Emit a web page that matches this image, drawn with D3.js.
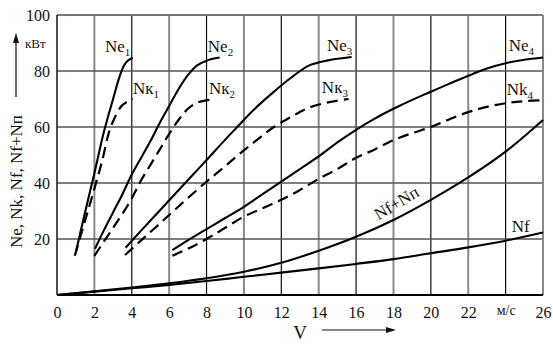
<!DOCTYPE html>
<html><head><meta charset="utf-8">
<script src="https://cdn.jsdelivr.net/npm/d3@7/dist/d3.min.js"></script>
<style>
body{margin:0;background:#fff}
text{font-family:"Liberation Serif","Times New Roman",serif;fill:#111}
</style>
</head><body>
<svg id="c" width="553" height="344"></svg>
<script>
// ---- data ----
const xTicks = [0,2,4,6,8,10,12,14,16,18,20,22,24,26];
const xTickLabels = ["0","2","4","6","8","10","12","14","16","18","20","22","м/с","26"];
const yTicks = [20,40,60,80,100];
const yTickLabels = ["20","40","60","80","100"];

const ne1 = [[1.0,15],[1.5,29.5],[2.0,43.5],[2.5,58],[3.0,70],[3.3,77],[3.55,81.5],[3.75,83.5],[4.05,84.8]];
const nk1 = [[0.95,14],[1.5,26.5],[2.0,38],[2.4,47.5],[2.8,58.5],[3.1,63.5],[3.45,67.5],[3.75,69],[4.05,70]];
const ne2 = [[2.03,16.5],[2.5,23],[3.0,29.5],[3.5,36],[4.0,43],[4.5,49],[5.0,55],[5.5,61.5],[6.0,67.5],[6.5,73.5],[7.0,78.5],[7.5,82],[8.0,83.7],[8.7,84.8]];
const nk2 = [[2.0,14],[2.5,19],[3.0,24],[3.5,29],[4.0,34.5],[4.5,41],[5.0,46.5],[5.5,52],[6.0,57.5],[6.5,62.5],[7.0,66.5],[7.5,68.7],[8.45,70]];
const ne3 = [[3.67,16.9],[4.5,23],[5.5,30.2],[6.5,37.4],[7.5,44.6],[8.0,48.2],[9.0,55.5],[9.64,60],[10.5,66],[11.5,72],[12.5,77.5],[13.5,82],[14.5,83.8],[15.76,85]];
const nk3 = [[3.64,14.3],[4.5,19.5],[5.5,25.5],[6.58,32.1],[8.0,40.5],[9.0,46],[9.8,50.6],[10.7,55.4],[11.6,60],[12.5,63.5],[13.4,66.7],[14.5,68.8],[15.6,70]];
const ne4 = [[6.17,16],[7,19.5],[8,23.5],[9,27.5],[10,31.5],[11,36],[12,40.5],[13,45],[14,49.5],[15,54.5],[16,59],[17,63],[18,66.5],[19,69.7],[20,72.6],[21,75.5],[22,78.3],[23,80.9],[24,82.8],[25,84],[26,84.8]];
const nk4 = [[6.17,14],[7,16.5],[8,20],[9,24],[10,28],[11,31],[12,34],[13,37.5],[14,41.5],[15,45],[16,49],[17,52],[18,55.3],[19,57.8],[20,60],[21,62.8],[22,65.3],[23,67.2],[24,68.5],[25,69.2],[26,69.6]];
const nfnp = [[0,0],[2,1.3],[4,2.7],[6,4.2],[8,6],[10,8.3],[12,11.5],[14,15.8],[16,20.8],[18,26.8],[20,34],[22,42],[24,51.2],[26,62.5]];
const nf = [[0,0],[2,1.2],[4,2.4],[6,3.6],[8,5],[10,6.5],[12,8],[14,9.5],[16,11.1],[18,12.8],[20,14.9],[22,17],[24,19.4],[26,22.3]];

const solidSeries = [ne1, ne2, ne3, ne4, nfnp, nf];
const dashedSeries = [nk1, nk2, nk3, nk4];

// ---- chart ----
const svg = d3.select("#c");
const x = d3.scaleLinear().domain([0,26]).range([57,543]);
const y = d3.scaleLinear().domain([0,100]).range([295,15]);

// grid
const g = svg.append("g");
xTicks.filter(v => v>0 && v<26).forEach(v => {
  const dark = (v % 4 === 0);
  g.append("line").attr("x1",x(v)).attr("x2",x(v)).attr("y1",y(100)).attr("y2",y(0))
    .attr("stroke", dark ? "#111" : "#8a8a8a").attr("stroke-width", dark ? 1.2 : 2);
});
yTicks.filter(v => v<100).forEach(v => {
  g.append("line").attr("x1",x(0)).attr("x2",x(26)).attr("y1",y(v)).attr("y2",y(v))
    .attr("stroke","#555").attr("stroke-width",1.6);
});
// border
g.append("line").attr("x1",x(0)).attr("x2",x(26)).attr("y1",y(100)).attr("y2",y(100)).attr("stroke","#777").attr("stroke-width",2);
g.append("line").attr("x1",x(26)).attr("x2",x(26)).attr("y1",y(100)).attr("y2",y(0)).attr("stroke","#8a8a8a").attr("stroke-width",2);
g.append("line").attr("x1",x(0)).attr("x2",x(0)).attr("y1",y(100)).attr("y2",y(0)).attr("stroke","#111").attr("stroke-width",1.5);
g.append("line").attr("x1",x(0)).attr("x2",x(26)).attr("y1",y(0)).attr("y2",y(0)).attr("stroke","#000").attr("stroke-width",2);

// curves
const line = d3.line().x(d => x(d[0])).y(d => y(d[1])).curve(d3.curveCatmullRom.alpha(0.5));
svg.append("g").selectAll("path").data(solidSeries).join("path")
  .attr("d", line).attr("fill","none").attr("stroke","#000").attr("stroke-width",2.1);
svg.append("g").selectAll("path").data(dashedSeries).join("path")
  .attr("d", line).attr("fill","none").attr("stroke","#000").attr("stroke-width",2.2)
  .attr("stroke-dasharray","11,6");

// x axis labels
const xAxis = d3.axisBottom(x).tickValues(xTicks).tickSize(0).tickPadding(12)
  .tickFormat((d,i) => xTickLabels[i]);
const xa = svg.append("g").attr("transform",`translate(0,${y(0)})`).call(xAxis);
xa.select(".domain").remove();
xa.selectAll("text").attr("font-size",16).attr("font-family","Liberation Serif").attr("fill","#111")
  .filter((d,i) => xTickLabels[i] === "м/с").attr("font-size",14).attr("dy","0.6em");

// y axis labels
const yAxis = d3.axisLeft(y).tickValues(yTicks).tickSize(0).tickPadding(7)
  .tickFormat((d,i) => yTickLabels[i]);
const ya = svg.append("g").attr("transform",`translate(${x(0)},0)`).call(yAxis);
ya.select(".domain").remove();
ya.selectAll("text").attr("font-size",16).attr("font-family","Liberation Serif").attr("fill","#111");

// curve labels
const labels = [
  {t:"Ne", s:"1", v:2.57, k:86.8},
  {t:"Ne", s:"2", v:8.07, k:86.8},
  {t:"Nк", s:"1", v:4.06, k:71.8},
  {t:"Nк", s:"2", v:8.13, k:71.8},
  {t:"Ne", s:"3", v:14.44, k:87.1},
  {t:"Nк", s:"3", v:14.17, k:72.1},
  {t:"Ne", s:"4", v:24.17, k:87.1},
  {t:"Nk", s:"4", v:24.06, k:71.4},
  {t:"Nf", s:"", v:24.33, k:22.5}
];
labels.forEach(l => {
  const t = svg.append("text").attr("x",x(l.v)).attr("y",y(l.k)).attr("font-size",17);
  t.append("tspan").text(l.t);
  if (l.s) t.append("tspan").attr("dy",4).attr("font-size",11).text(l.s);
});
svg.append("text").attr("transform",`translate(${x(17.2)},${y(26.6)}) rotate(-31)`)
  .attr("font-size",17).text("Nf+Nп");

// axis titles
svg.append("text").attr("transform","translate(22,248) rotate(-90)").attr("font-size",17)
  .text("Ne, Nk, Nf, Nf+Nп");
svg.append("line").attr("x1",16).attr("x2",16).attr("y1",97).attr("y2",40).attr("stroke","#111").attr("stroke-width",1.2);
svg.append("path").attr("d","M16,33 L13,43 L19,43 Z").attr("fill","#111");
svg.append("text").attr("x",25).attr("y",48).attr("font-size",13).text("кВт");

svg.append("text").attr("x",300).attr("y",339).attr("font-size",19).attr("text-anchor","middle").text("V");
svg.append("line").attr("x1",322).attr("x2",388).attr("y1",330).attr("y2",330).attr("stroke","#111").attr("stroke-width",1.2);
svg.append("path").attr("d","M396,330 L386,327 L386,333 Z").attr("fill","#111");
</script>
</body></html>
